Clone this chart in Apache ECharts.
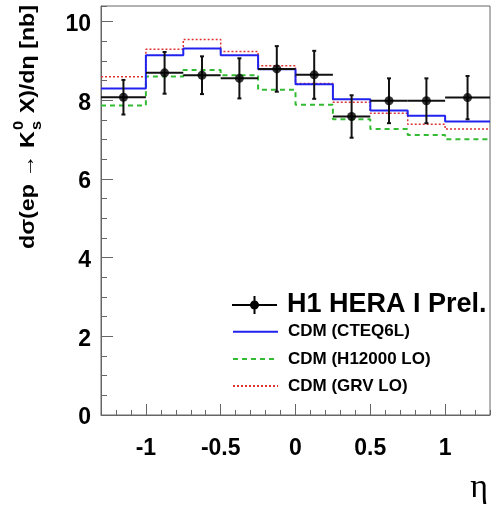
<!DOCTYPE html>
<html><head><meta charset="utf-8">
<script src="https://cdn.jsdelivr.net/npm/echarts@6/dist/echarts.min.js"></script>
<style>html,body{margin:0;padding:0;background:#fff}#c{width:492px;height:505px}</style>
</head><body><div id="c"></div>
<script>
// ---- data ----
const binEdges = [-1.3, -1, -0.75, -0.5, -0.25, 0, 0.25, 0.5, 0.75, 1, 1.3];
const h1Values = [8.08, 8.70, 8.64, 8.56, 8.80, 8.65, 7.59, 7.99, 7.99, 8.07];
const h1Errors = [0.44, 0.53, 0.48, 0.51, 0.58, 0.61, 0.54, 0.57, 0.57, 0.55];
const cteq6l   = [8.30, 9.15, 9.32, 9.15, 8.79, 8.41, 8.03, 7.74, 7.61, 7.46];
const h12000   = [7.87, 8.61, 8.77, 8.64, 8.27, 7.89, 7.52, 7.27, 7.12, 7.01];
const grvLO    = [8.60, 9.30, 9.55, 9.24, 8.88, 8.43, 7.95, 7.67, 7.39, 7.27];
const xTickValues = [-1, -0.5, 0, 0.5, 1];
const xTickLabels = ['-1', '-0.5', '0', '0.5', '1'];
const yTickValues = [0, 2, 4, 6, 8, 10];
const yTickLabels = ['0', '2', '4', '6', '8', '10'];
const seriesNames = ['H1 HERA I Prel.', 'CDM (CTEQ6L)', 'CDM (H12000 LO)', 'CDM (GRV LO)'];

// ---- helpers ----
const FONT = '"Liberation Sans", Arial, Helvetica, sans-serif';
const ctx = document.createElement('canvas').getContext('2d');
function tw(text, size, weight) { ctx.font = (weight || 'bold') + ' ' + size + 'px ' + FONT; return ctx.measureText(text).width; }
function stepPoints(vals) {
  const pts = [];
  vals.forEach((v, i) => { pts.push([binEdges[i], v]); pts.push([binEdges[i + 1], v]); });
  return pts;
}
const dataItems = h1Values.map((v, i) => [binEdges[i], binEdges[i + 1], v, h1Errors[i]]);
const dataCentres = h1Values.map((v, i) => [(binEdges[i] + binEdges[i + 1]) / 2, v]);

// y-axis title pieces
const tSize = 20, sSize = 14;
const part1 = 'dσ(ep → K', part2 = ' X)/dη [nb]';
const w1 = tw(part1, tSize), wSup = Math.max(tw('0', sSize), tw('s', sSize)), w2 = tw(part2, tSize);
const titleLen = w1 + wSup + 2 + w2;
const titleTop = 5, titleBottom = 249;
const titleScale = (titleBottom - titleTop) / titleLen;

const AX = '#666';
const h1Icon = 'path://M0,8H45V10H0Z M21.5,0H23.5V18H21.5Z M27,9A4.5,4.5,0,1,1,18,9A4.5,4.5,0,1,1,27,9Z';
const lineLegend = (name, top) => ({
  data: [name], left: 232, top: top, padding: 0, itemWidth: 45, itemHeight: 12, selectedMode: false,
  itemStyle: {opacity: 0, borderWidth: 0},
  textStyle: {fontSize: 17, fontWeight: 'bold', fontFamily: FONT, color: '#000', lineHeight: 18, padding: [0, 0, 0, 5]}
});

const chart = echarts.init(document.getElementById('c'), null, {renderer: 'canvas'});
chart.setOption({
  animation: false,
  backgroundColor: '#fff',
  grid: {left: 101, right: 2, top: 6, bottom: 84, show: true, borderColor: AX, borderWidth: 1, backgroundColor: 'transparent'},
  xAxis: [{
    type: 'value', min: -1.3, max: 1.3, position: 'bottom',
    axisLine: {show: true, onZero: false, lineStyle: {color: AX, width: 1}},
    axisTick: {show: true, inside: true, length: 11, customValues: xTickValues, lineStyle: {color: AX}},
    axisLabel: {customValues: xTickValues, formatter: v => xTickLabels[xTickValues.indexOf(v)] ?? '',
      color: '#000', fontSize: 23, fontWeight: 'bold', fontFamily: FONT, margin: 22},
    splitLine: {show: false},
    name: 'η', nameLocation: 'end', nameGap: -2,
    nameTextStyle: {fontFamily: '"Liberation Serif", "DejaVu Serif", serif', fontSize: 34, color: '#000',
      align: 'right', verticalAlign: 'top', padding: [56, 0, 0, 0]}
  }, {
    type: 'value', min: -1.3, max: 1.3, interval: 0.1, position: 'bottom',
    axisLine: {show: false}, axisLabel: {show: false}, splitLine: {show: false},
    axisTick: {show: true, inside: true, length: 5, lineStyle: {color: AX}}
  }],
  yAxis: [{
    type: 'value', min: -0.001, max: 10.4, position: 'left',
    axisLine: {show: true, onZero: false, lineStyle: {color: AX, width: 1}},
    axisTick: {show: true, inside: true, length: 12, customValues: yTickValues, lineStyle: {color: AX}},
    axisLabel: {customValues: yTickValues, formatter: v => yTickLabels[yTickValues.indexOf(v)] ?? '',
      color: '#000', fontSize: 23, fontWeight: 'bold', fontFamily: FONT, margin: 10,
      verticalAlign: 'top', lineHeight: 6},
    splitLine: {show: false}
  }, {
    type: 'value', min: 0, max: 10.4, interval: 0.5, position: 'left',
    axisLine: {show: false, onZero: false}, axisLabel: {show: false}, splitLine: {show: false},
    axisTick: {show: true, inside: true, length: 6, lineStyle: {color: AX}}
  }],
  legend: [
    {data: [{name: seriesNames[0], icon: h1Icon}], left: 232, top: 291, padding: 0, itemWidth: 45, itemHeight: 18,
     selectedMode: false, textStyle: {fontSize: 27, fontWeight: 'bold', fontFamily: FONT, color: '#000', lineHeight: 28, padding: [0, 0, 0, 5]}},
    lineLegend(seriesNames[1], 322.7),
    lineLegend(seriesNames[2], 350),
    lineLegend(seriesNames[3], 377)
  ],
  graphic: [{
    type: 'group', x: 28, y: titleBottom, rotation: Math.PI / 2, scaleX: titleScale, scaleY: 1, silent: true,
    children: [
      {type: 'text', x: 0, y: 0, style: {text: part1, fontSize: tSize, fontWeight: 'bold', fontFamily: FONT, fill: '#000', align: 'left', verticalAlign: 'middle'}},
      {type: 'text', x: w1 + 1, y: -9, style: {text: '0', fontSize: sSize, fontWeight: 'bold', fontFamily: FONT, fill: '#000', align: 'left', verticalAlign: 'middle'}},
      {type: 'text', x: w1 + 1, y: 9, style: {text: 's', fontSize: sSize, fontWeight: 'bold', fontFamily: FONT, fill: '#000', align: 'left', verticalAlign: 'middle'}},
      {type: 'text', x: w1 + wSup + 2, y: 0, style: {text: part2, fontSize: tSize, fontWeight: 'bold', fontFamily: FONT, fill: '#000', align: 'left', verticalAlign: 'middle'}}
    ]
  }],
  series: [
    {name: seriesNames[3], type: 'line', data: stepPoints(grvLO), symbol: 'none', z: 2,
     itemStyle: {color: '#dd3333'}, lineStyle: {color: '#dd3333', width: 1.5, type: [2, 2]}},
    {name: seriesNames[2], type: 'line', data: stepPoints(h12000), symbol: 'none', z: 2,
     itemStyle: {color: '#33bb33'}, lineStyle: {color: '#33bb33', width: 2, type: [5, 4]}},
    {name: seriesNames[1], type: 'line', data: stepPoints(cteq6l), symbol: 'none', z: 3,
     itemStyle: {color: '#2222ee'}, lineStyle: {color: '#2222ee', width: 2}},
    {name: seriesNames[0], type: 'custom', data: dataItems, z: 4,
     encode: {x: [0, 1], y: 2}, itemStyle: {color: '#000'},
     renderItem: function (params, api) {
       const lo = api.value(0), hi = api.value(1), v = api.value(2), e = api.value(3), c = (lo + hi) / 2;
       const pL = api.coord([lo, v]), pR = api.coord([hi, v]);
       const pT = api.coord([c, v + e]), pB = api.coord([c, v - e]);
       const st = {stroke: '#111', lineWidth: 2};
       return {type: 'group', children: [
         {type: 'line', shape: {x1: pL[0], y1: pL[1], x2: pR[0], y2: pR[1]}, style: st},
         {type: 'line', shape: {x1: pT[0], y1: pT[1], x2: pB[0], y2: pB[1]}, style: st},
         {type: 'line', shape: {x1: pT[0] - 2, y1: pT[1], x2: pT[0] + 2, y2: pT[1]}, style: st},
         {type: 'line', shape: {x1: pB[0] - 2, y1: pB[1], x2: pB[0] + 2, y2: pB[1]}, style: st}
       ]};
     }},
    {name: seriesNames[0], type: 'scatter', data: dataCentres, symbol: 'circle', symbolSize: 9, z: 5,
     itemStyle: {color: '#000'}}
  ]
});
</script>
</body></html>
